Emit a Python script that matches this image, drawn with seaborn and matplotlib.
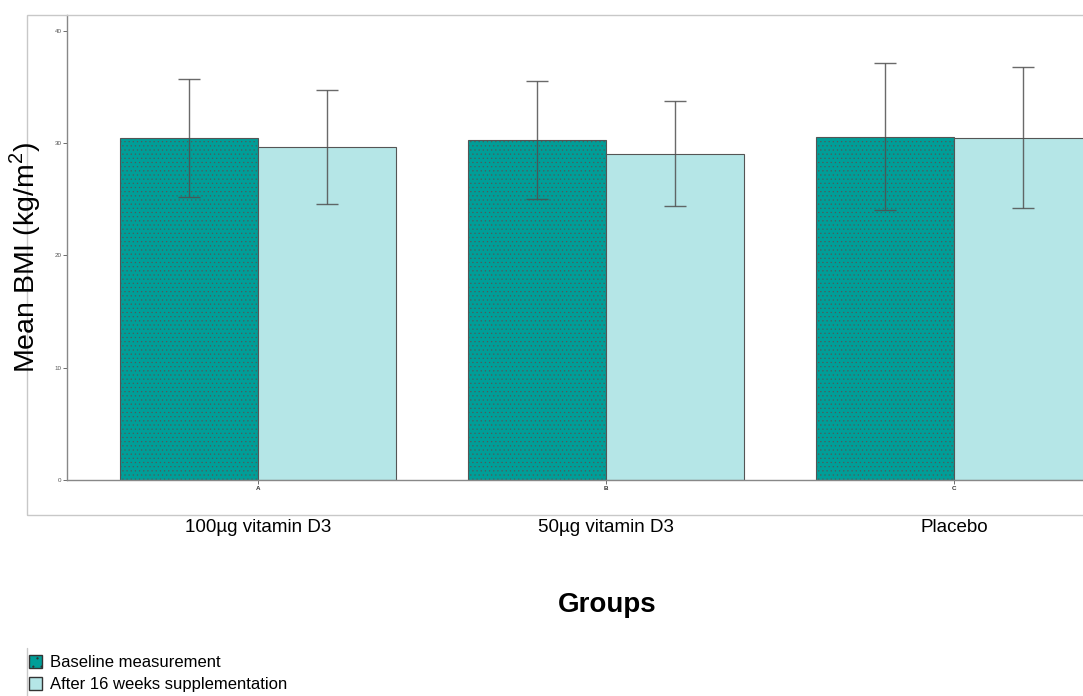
import pandas as pd
import matplotlib.pyplot as plt
import seaborn as sns
from matplotlib.patches import Patch, Rectangle
from matplotlib.lines import Line2D

# Datos
groups = ['A', 'B', 'C']
group_names = ['100µg vitamin D3', '50µg vitamin D3', 'Placebo']
phases = ['Baseline measurement', 'After 16 weeks supplementation']
baseline_mean = [30.45, 30.3, 30.55]
baseline_low = [25.2, 25.0, 24.05]
baseline_high = [35.7, 35.5, 37.1]
after_mean = [29.65, 29.0, 30.45]
after_low = [24.6, 24.4, 24.2]
after_high = [34.7, 33.7, 36.8]

teal = '#009E98'
light = '#B5E6E7'
hatch_col = '#0b8883'

df = pd.DataFrame({
    'group': groups * 2,
    'phase': [phases[0]] * 3 + [phases[1]] * 3,
    'bmi': baseline_mean + after_mean,
})

sns.set_theme(style='white')
plt.rcParams['font.family'] = ['Liberation Sans', 'DejaVu Sans']
plt.rcParams['mathtext.fontset'] = 'custom'
plt.rcParams['mathtext.rm'] = 'Liberation Sans'
plt.rcParams['text.color'] = 'black'
plt.rcParams['hatch.linewidth'] = 0.35

fig = plt.figure(figsize=(10.83, 6.96), dpi=100, facecolor='white')
ax = fig.add_axes([67 / 1083, 1 - 480 / 696, 1078 / 1083, 465 / 696])

sns.barplot(data=df, x='group', y='bmi', hue='phase', palette=[teal, light],
            saturation=1, width=0.793, gap=0, errorbar=None, legend=False, ax=ax,
            edgecolor='#555555', linewidth=0.8)

# textura punteada en las barras de baseline
for bar in ax.containers[0]:
    bar.set_hatch('....')
    if hasattr(bar, 'set_hatchcolor'):
        bar.set_hatchcolor(hatch_col)

# barras de error
for cont, means, lo, hi in [(ax.containers[0], baseline_mean, baseline_low, baseline_high),
                            (ax.containers[1], after_mean, after_low, after_high)]:
    xs = [b.get_x() + b.get_width() / 2 for b in cont]
    yerr = [[m - l for m, l in zip(means, lo)], [h - m for m, h in zip(means, hi)]]
    ax.errorbar(xs, means, yerr=yerr, fmt='none', ecolor='#505050', alpha=0.85,
                elinewidth=1.0, capsize=8, capthick=1.0)

ax.set_xlim(-0.549, 2.549)
ax.set_ylim(0, 41.4)
ax.set_yticks([0, 10, 20, 30, 40])
ax.tick_params(axis='y', labelsize=4.5, labelcolor='#555555', length=3, width=0.6,
               color='#555555', left=True, pad=1)
ax.tick_params(axis='x', labelsize=4.5, labelcolor='#333333', length=3, width=0.6,
               color='#555555', bottom=True, pad=1)
ax.set_xticks(range(len(groups)))
ax.set_xticklabels(groups, fontweight='bold')
ax.set_xlabel('')
ax.set_ylabel('')
for s in ['top', 'right']:
    ax.spines[s].set_visible(False)
for s in ['left', 'bottom']:
    ax.spines[s].set_color('#888888')
    ax.spines[s].set_linewidth(1.0)

# marco exterior
fig.add_artist(Rectangle((27 / 1083, 1 - 515 / 696), 1.1, 500 / 696,
                         transform=fig.transFigure, fill=False,
                         edgecolor='#c8c8c8', linewidth=1.0))

# nombres de grupos
for i, name in enumerate(group_names):
    ax.text(i, -4.2, name, ha='center', va='center', fontsize=13.5)

fig.text(607 / 1083, 1 - 605 / 696, 'Groups', ha='center', va='center',
         fontsize=20, fontweight='bold')
fig.text(25 / 1083, 1 - 258 / 696, r'Mean BMI (kg/m$^2$)', ha='center',
         va='center', rotation=90, fontsize=20.5)

# leyenda
handles = [Patch(facecolor=teal, edgecolor='#333333', hatch='..'),
           Patch(facecolor=light, edgecolor='#333333')]
fig.add_artist(Line2D([27 / 1083, 27 / 1083], [0, 1 - 648 / 696],
                      transform=fig.transFigure, color='#c8c8c8', linewidth=1.0))
fig.legend(handles, phases, loc='lower left', bbox_to_anchor=(22 / 1083, -0.004),
           frameon=False, fontsize=12, handlelength=0.8, handleheight=0.8,
           handletextpad=0.5, labelspacing=0.4, borderaxespad=0)

fig.savefig('out.png', dpi=100, facecolor='white')
plt.close()
